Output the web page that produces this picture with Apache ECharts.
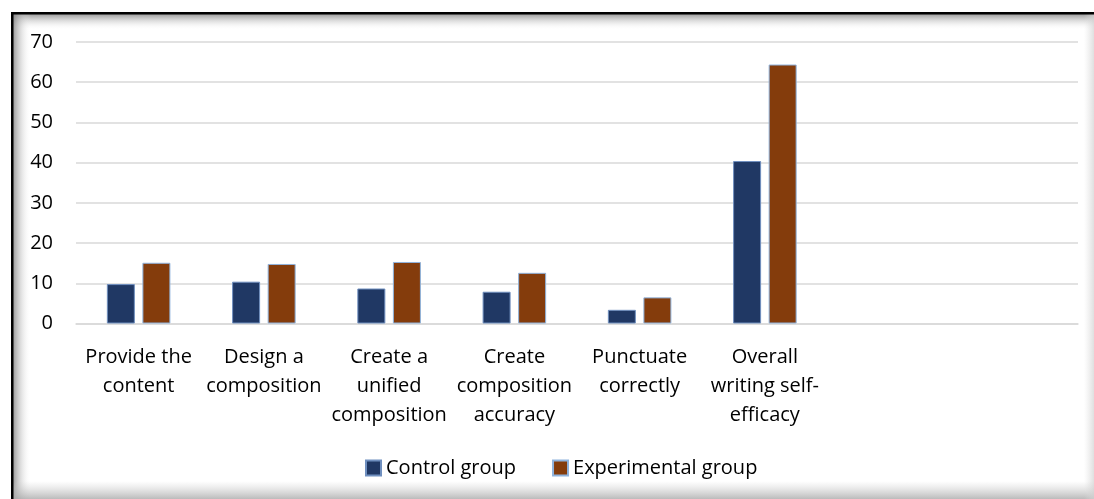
<!DOCTYPE html>
<html>
<head>
<meta charset="utf-8">
<title>Writing self-efficacy: control vs experimental group</title>
<script src="https://cdn.jsdelivr.net/npm/echarts@6/dist/echarts.min.js"></script>
<style>
  html, body { margin: 0; padding: 0; background: #ffffff; }
  #chart { width: 1094px; height: 499px; }
</style>
</head>
<body>
<div id="chart"></div>
<script>
// Writing self-efficacy dimensions
const categories = [
  'Provide the\ncontent',
  'Design a\ncomposition',
  'Create a\nunified\ncomposition',
  'Create\ncomposition\naccuracy',
  'Punctuate\ncorrectly',
  'Overall\nwriting self-\nefficacy'
];
// two empty slots kept on the right of the axis
const emptySlots = ['', ''];

const controlGroup = [9.8, 10.4, 8.7, 7.9, 3.4, 40.4];
const experimentalGroup = [15.1, 14.8, 15.3, 12.6, 6.5, 64.4];

const yTicks = { min: 0, max: 70, step: 10 };

const FONT = '"Open Sans", "Liberation Sans", sans-serif';

const chart = echarts.init(document.getElementById('chart'), null, { renderer: 'canvas' });

chart.setOption({
  backgroundColor: '#ffffff',
  animation: false,
  textStyle: { fontFamily: FONT },
  grid: { left: 76, right: 16, top: 42, bottom: 175.5, containLabel: false },
  legend: {
    left: 360,
    top: 453,
    itemWidth: 15,
    itemHeight: 15,
    itemGap: 36,
    icon: 'rect',
    textStyle: { fontFamily: FONT, fontSize: 20, color: '#000000' },
    data: ['Control group', 'Experimental group']
  },
  xAxis: {
    type: 'category',
    data: categories.concat(emptySlots),
    axisLine: { show: true, lineStyle: { color: '#d9d9d9', width: 1.5 } },
    axisTick: { show: false },
    axisLabel: {
      interval: 0,
      margin: 19,
      fontFamily: FONT,
      fontSize: 20,
      lineHeight: 29,
      color: '#000000',
      align: 'center'
    }
  },
  yAxis: {
    type: 'value',
    min: yTicks.min,
    max: yTicks.max,
    interval: yTicks.step,
    axisLine: { show: false },
    axisTick: { show: false },
    splitLine: { show: true, lineStyle: { color: '#d9d9d9', width: 1.5 } },
    axisLabel: { margin: 23, fontFamily: FONT, fontSize: 20, color: '#000000' }
  },
  series: [
    {
      name: 'Control group',
      type: 'bar',
      data: controlGroup,
      barWidth: 28,
      barGap: '27%',
      itemStyle: { color: '#203864', borderColor: '#6f8fbf', borderWidth: 1 }
    },
    {
      name: 'Experimental group',
      type: 'bar',
      data: experimentalGroup,
      barWidth: 28,
      barGap: '27%',
      itemStyle: { color: '#843c0c', borderColor: '#8fb3dd', borderWidth: 1 }
    }
  ],
  // framed panel: black top/left rule with a soft inner shade along the edges
  graphic: [
    {
      type: 'rect', z: -10, silent: true,
      shape: { x: 13, y: 14, width: 1081, height: 16 },
      style: { fill: new echarts.graphic.LinearGradient(0, 0, 0, 1, [
        { offset: 0, color: 'rgba(120,120,120,0.75)' },
        { offset: 1, color: 'rgba(255,255,255,0)' }
      ]) }
    },
    {
      type: 'rect', z: -10, silent: true,
      shape: { x: 13, y: 14, width: 18, height: 485 },
      style: { fill: new echarts.graphic.LinearGradient(0, 0, 1, 0, [
        { offset: 0, color: 'rgba(120,120,120,0.75)' },
        { offset: 1, color: 'rgba(255,255,255,0)' }
      ]) }
    },
    {
      type: 'rect', z: -10, silent: true,
      shape: { x: 13, y: 481, width: 1081, height: 18 },
      style: { fill: new echarts.graphic.LinearGradient(0, 0, 0, 1, [
        { offset: 0, color: 'rgba(200,200,200,0)' },
        { offset: 1, color: 'rgba(170,170,170,0.8)' }
      ]) }
    },
    {
      type: 'rect', z: -10, silent: true,
      shape: { x: 1084, y: 14, width: 10, height: 485 },
      style: { fill: new echarts.graphic.LinearGradient(0, 0, 1, 0, [
        { offset: 0, color: 'rgba(220,220,220,0)' },
        { offset: 1, color: 'rgba(210,210,210,0.7)' }
      ]) }
    },
    {
      type: 'rect', z: 100, silent: true,
      shape: { x: 11, y: 12, width: 1083, height: 2.5 },
      style: { fill: '#000000' }
    },
    {
      type: 'rect', z: 100, silent: true,
      shape: { x: 11, y: 12, width: 2.5, height: 487 },
      style: { fill: '#000000' }
    }
  ]
});
</script>
</body>
</html>
